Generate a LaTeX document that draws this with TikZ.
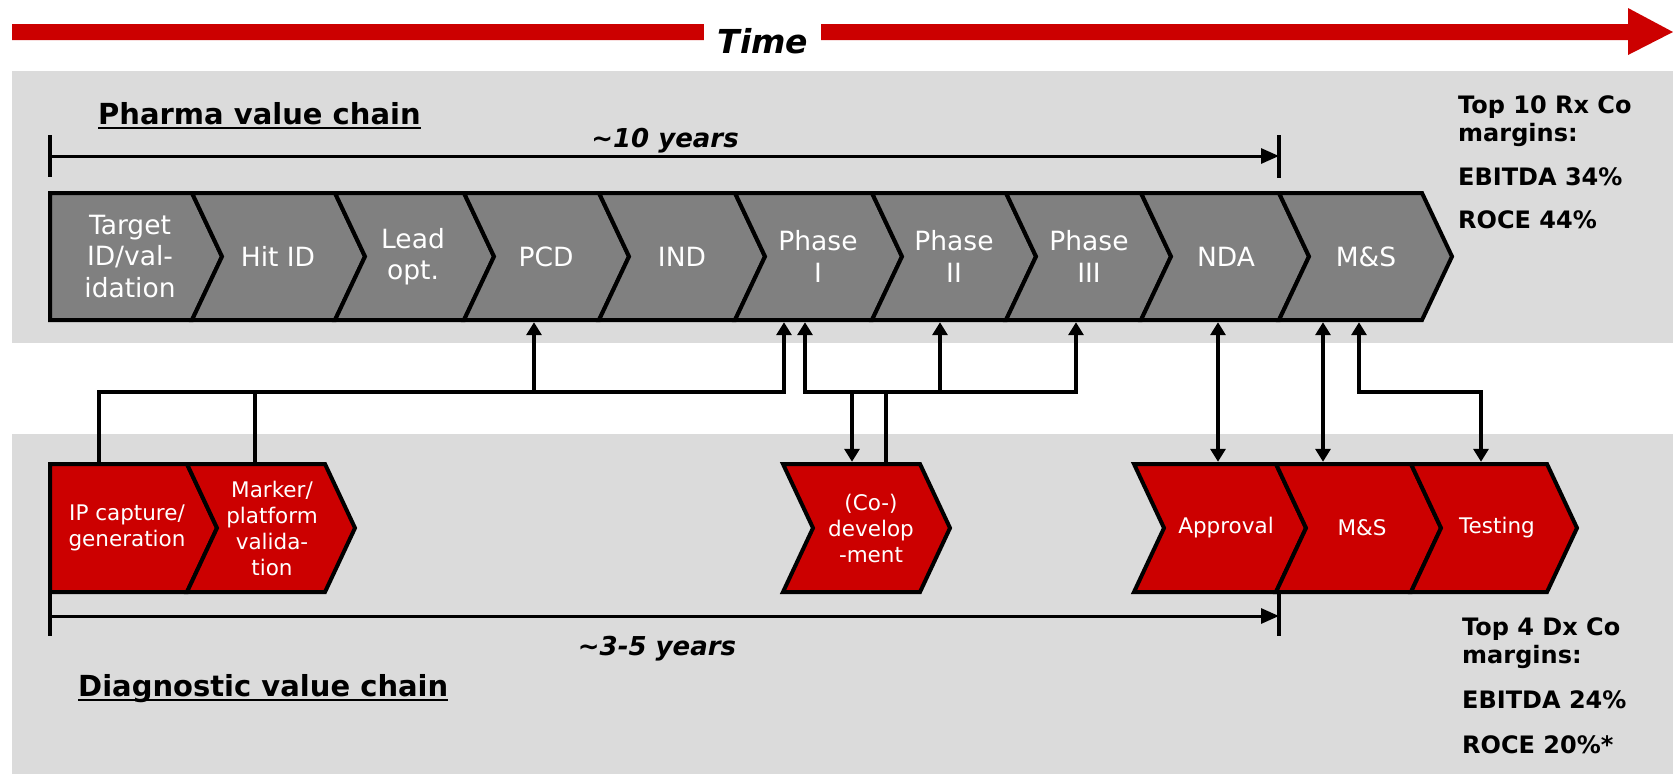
\documentclass[tikz,border=0pt]{standalone}
\usepackage{fontspec}
\setmainfont{DejaVu Sans}
\usetikzlibrary{arrows.meta}
\definecolor{barred}{HTML}{CC0000}
\definecolor{bandgray}{HTML}{DBDBDB}
\definecolor{chevgray}{HTML}{808080}
\newcommand{\mychev}[5]{\path[#5] (#1,#3) -- (#2,#3) -- ({#2+30},{(#3+#4)/2}) -- (#2,#4) -- (#1,#4) -- ({#1+30},{(#3+#4)/2}) -- cycle;}
\newcommand{\myflatchev}[5]{\path[#5] (#1,#3) -- (#2,#3) -- ({#2+30},{(#3+#4)/2}) -- (#2,#4) -- (#1,#4) -- cycle;}
\begin{document}
\begin{tikzpicture}[x=1pt,y=-1pt,
  ctip/.tip={Triangle[length=13pt,width=15pt]},
  btip/.tip={Triangle[length=18pt,width=15pt]},
  chevP/.style={fill=chevgray,draw=black,line width=4pt,line join=miter},
  chevD/.style={fill=barred,draw=black,line width=4pt,line join=miter},
  lblP/.style={text=white,align=center,font=\fontsize{26.5}{31.5}\selectfont,inner sep=0pt,minimum height=131pt},
  lblD/.style={text=white,align=center,font=\fontsize{21.5}{26}\selectfont,inner sep=0pt,minimum height=132pt},
  conn/.style={line width=3.2pt},
  tick/.style={line width=4pt},
  span/.style={line width=3pt},
  title/.style={anchor=base west,inner sep=0pt,font=\bfseries\fontsize{29}{32}\selectfont},
  under/.style={line width=2.5pt},
  yrs/.style={anchor=base,inner sep=0pt,font=\bfseries\itshape\fontsize{26}{30}\selectfont},
  marg/.style={anchor=base west,inner sep=0pt,font=\bfseries\fontsize{24}{28}\selectfont}
]
\useasboundingbox (0,0) rectangle (1673,774);
% background bands
\fill[bandgray] (12,71) rectangle (1673,343);
\fill[bandgray] (12,434) rectangle (1673,774);
% time arrow
\fill[barred] (12,24) -- (1628,24) -- (1628,8) -- (1673,32) -- (1628,55) -- (1628,40) -- (12,40) -- cycle;
\node[fill=white,inner sep=0pt,minimum width=117pt,minimum height=52pt] (timebox) at (762.5,45) {};
\node[anchor=base,inner sep=0pt,font=\bfseries\itshape\fontsize{33}{36}\selectfont] (time) at (763,53) {Time};

% Pharma value chain
\node[title] (ptitle) at (98,124) {Pharma value chain};
\draw[under] ([yshift=-4pt]ptitle.base west) -- ([yshift=-4pt]ptitle.base east);
\coordinate (pa) at (50,156);
\coordinate (pb) at (1279,156);
\draw[tick] (50,135) -- (50,177);
\draw[tick] (1279,135) -- (1279,178);
\draw[span,-btip] (pa) -- (pb);
\node[yrs] (y10) at (665,147) {\textasciitilde10 years};

\myflatchev{50}{192}{193}{320}{chevP}
\mychev{192}{335}{193}{320}{chevP}
\mychev{335}{464}{193}{320}{chevP}
\mychev{464}{599}{193}{320}{chevP}
\mychev{599}{735}{193}{320}{chevP}
\mychev{735}{872}{193}{320}{chevP}
\mychev{872}{1006}{193}{320}{chevP}
\mychev{1006}{1141}{193}{320}{chevP}
\mychev{1141}{1279}{193}{320}{chevP}
\mychev{1279}{1422}{193}{320}{chevP}

\node[lblP] (tgt) at (130,256.5) {Target\\ID/val-\\idation};
\node[lblP] (hit) at (278,256.5) {Hit ID};
\node[lblP] (lead) at (413,256.5) {Lead\\opt.};
\node[lblP] (pcd) at (546,256.5) {PCD};
\node[lblP] (ind) at (682,256.5) {IND};
\node[lblP] (ph1) at (818,256.5) {Phase\\I};
\node[lblP] (ph2) at (954,256.5) {Phase\\II};
\node[lblP] (ph3) at (1089,256.5) {Phase\\III};
\node[lblP] (nda) at (1226,256.5) {NDA};
\node[lblP] (msp) at (1366,256.5) {M\&S};

\node[marg] (rx1) at (1458,113) {Top 10 Rx Co};
\node[marg] (rx2) at (1458,141) {margins:};
\node[marg] (rx3) at (1458,185) {EBITDA 34\%};
\node[marg] (rx4) at (1458,228) {ROCE 44\%};

% Diagnostic value chain
\myflatchev{50}{187}{464}{592}{chevD}
\mychev{187}{325}{464}{592}{chevD}
\mychev{783}{920}{464}{592}{chevD}
\mychev{1134}{1276}{464}{592}{chevD}
\mychev{1276}{1411}{464}{592}{chevD}
\mychev{1411}{1547}{464}{592}{chevD}

\node[lblD] (ipc) at (127,528) {IP capture/\\generation};
\node[lblD] (mkr) at (272,528) {Marker/\\platform\\valida-\\tion};
\node[lblD] (codev) at (871,528) {(Co-)\\develop\\-ment};
\node[lblD] (appr) at (1226,528) {Approval};
\node[lblD] (msd) at (1362,528) {M\&S};
\node[lblD] (test) at (1497,528) {Testing};

\coordinate (da) at (50,616);
\coordinate (db) at (1279,616);
\draw[tick] (50,594) -- (50,636);
\draw[tick] (1279,594) -- (1279,636);
\draw[span,-btip] (da) -- (db);
\node[yrs] (y35) at (657,655) {\textasciitilde3-5 years};

\node[title] (dtitle) at (78,696) {Diagnostic value chain};
\draw[under] ([yshift=-4pt]dtitle.base west) -- ([yshift=-4pt]dtitle.base east);

\node[marg] (dx1) at (1462,635) {Top 4 Dx Co};
\node[marg] (dx2) at (1462,663) {margins:};
\node[marg] (dx3) at (1462,708) {EBITDA 24\%};
\node[marg] (dx4) at (1462,753) {ROCE 20\%*};

% connectors
\draw[conn,-ctip] (99,392 |- ipc.north) -- (99,392) -- (784,392) -- (784,392 |- ph1.south);
\draw[conn] (255,392 |- mkr.north) -- (255,392);
\draw[conn,-ctip] (534,392) -- (534,392 |- pcd.south);
\draw[conn,-ctip] (886,392 |- codev.north) -- (886,392) -- (805,392) -- (805,392 |- ph1.south);
\draw[conn,-ctip] (886,392) -- (1076,392) -- (1076,392 |- ph3.south);
\draw[conn,-ctip] (940,392) -- (940,392 |- ph2.south);
\draw[conn,-ctip] (852,392) -- (852,392 |- codev.north);
\draw[conn,ctip-ctip] (1218,392 |- nda.south) -- (1218,392 |- appr.north);
\draw[conn,ctip-ctip] (1323,392 |- msp.south) -- (1323,392 |- msd.north);
\draw[conn,ctip-ctip] (1359,392 |- msp.south) -- (1359,392) -- (1481,392) -- (1481,392 |- test.north);
\end{tikzpicture}
\end{document}
